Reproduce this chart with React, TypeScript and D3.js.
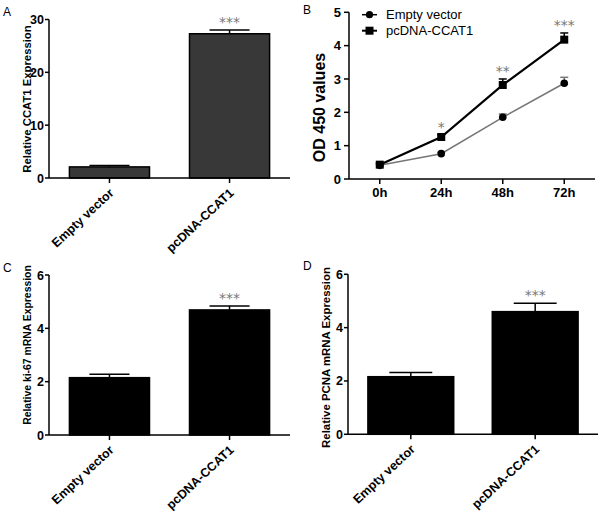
import React from "react";
import * as d3 from "d3";

// bar panels (A, C, D)
const groups = ["Empty vector", "pcDNA-CCAT1"];
const ccat1Mean = [2.1, 27.3];
const ccat1Err = [0.25, 0.7];
const ki67Mean = [2.15, 4.69];
const ki67Err = [0.13, 0.15];
const pcnaMean = [2.16, 4.6];
const pcnaErr = [0.16, 0.31];
const barStars = ["", "***"];
const ccat1Ticks = [0, 10, 20, 30];
const mrnaTicks = [0, 2, 4, 6];

// line panel (B)
const hours = ["0h", "24h", "48h", "72h"];
const emptyOD = [0.41, 0.76, 1.85, 2.87];
const emptyODErr = [0.03, 0.04, 0.1, 0.18];
const ccatOD = [0.43, 1.26, 2.82, 4.18];
const ccatODErr = [0.04, 0.07, 0.18, 0.2];
const odStars = ["", "*", "**", "***"];
const odTicks = [0, 1, 2, 3, 4, 5];

const FONT = "Liberation Sans, Arial, Helvetica, sans-serif";
const STAR_FONT = "DejaVu Sans, sans-serif";
const STAR_COLOR = "#777";

type BarProps = {
  letter: string;
  letterX: number;
  letterY: number;
  left: number;
  right: number;
  top: number;
  bottom: number;
  padIn: number;
  padOut: number;
  yMax: number;
  yTicks: number[];
  values: number[];
  errors: number[];
  fill: string;
  yLabel: string;
  yLabelX: number;
  yLabelY: number;
  yLabelSize: number;
};

function BarPanel(p: BarProps) {
  const x = d3
    .scaleBand<string>()
    .domain(groups)
    .range([p.left, p.right])
    .paddingInner(p.padIn)
    .paddingOuter(p.padOut);
  const y = d3.scaleLinear().domain([0, p.yMax]).range([p.bottom, p.top]);
  const bw = x.bandwidth();

  return (
    <g>
      <text x={p.letterX} y={p.letterY} fontSize={12}>
        {p.letter}
      </text>

      {groups.map((g, i) => {
        const x0 = x(g)!;
        const cx = x0 + bw / 2;
        const yv = y(p.values[i]);
        const ye = y(p.values[i] + p.errors[i]);
        const cap = bw * 0.5;
        return (
          <g key={g}>
            <line x1={cx} x2={cx} y1={yv} y2={ye} stroke="#000" strokeWidth={1.5} />
            <line x1={cx - cap / 2} x2={cx + cap / 2} y1={ye} y2={ye} stroke="#000" strokeWidth={1.5} />
            <rect x={x0} y={yv} width={bw} height={p.bottom - yv} fill={p.fill} stroke="#000" strokeWidth={1.5} />
            {barStars[i] && (
              <text x={cx} y={ye - 3} textAnchor="middle" fontFamily={STAR_FONT} fontSize={14} fill={STAR_COLOR}>
                {barStars[i]}
              </text>
            )}
            <line x1={cx} x2={cx} y1={p.bottom} y2={p.bottom + 5} stroke="#000" strokeWidth={1.5} />
            <text
              transform={`translate(${cx + 5},${p.bottom + 16}) rotate(-43)`}
              textAnchor="end"
              fontSize={12.5}
              fontWeight="bold"
            >
              {g}
            </text>
          </g>
        );
      })}

      {/* y axis */}
      <line x1={p.left} x2={p.left} y1={p.top} y2={p.bottom} stroke="#000" strokeWidth={1.5} />
      {p.yTicks.map((t) => (
        <g key={t}>
          <line x1={p.left - 4} x2={p.left} y1={y(t)} y2={y(t)} stroke="#000" strokeWidth={1.5} />
          <text x={p.left - 5} y={y(t)} dy="0.36em" textAnchor="end" fontSize={12.5} fontWeight="bold">
            {t}
          </text>
        </g>
      ))}
      {/* x axis */}
      <line x1={p.left} x2={p.right} y1={p.bottom} y2={p.bottom} stroke="#000" strokeWidth={1.5} />

      <text
        transform={`translate(${p.yLabelX},${p.yLabelY}) rotate(-90)`}
        textAnchor="middle"
        fontSize={p.yLabelSize}
        fontWeight="bold"
      >
        {p.yLabel}
      </text>
    </g>
  );
}

function LinePanel() {
  const left = 349;
  const right = 595;
  const top = 12.3;
  const bottom = 179;
  const x = d3.scalePoint<string>().domain(hours).range([left, right]).padding(0.5);
  const y = d3.scaleLinear().domain([0, 5]).range([bottom, top]);
  const line = d3
    .line<number>()
    .x((_, i) => x(hours[i])!)
    .y((d) => y(d));

  return (
    <g>
      <text x={303} y={14} fontSize={12}>
        B
      </text>

      {/* axes */}
      <line x1={left} x2={left} y1={top} y2={bottom} stroke="#000" strokeWidth={1.5} />
      {odTicks.map((t) => (
        <g key={t}>
          <line x1={left - 5} x2={left} y1={y(t)} y2={y(t)} stroke="#000" strokeWidth={1.5} />
          <text x={left - 8} y={y(t)} dy="0.36em" textAnchor="end" fontSize={13} fontWeight="bold">
            {t}
          </text>
        </g>
      ))}
      <line x1={left} x2={right} y1={bottom} y2={bottom} stroke="#000" strokeWidth={1.5} />
      {hours.map((h) => (
        <g key={h}>
          <line x1={x(h)!} x2={x(h)!} y1={bottom} y2={bottom + 5} stroke="#000" strokeWidth={1.5} />
          <text x={x(h)!} y={bottom + 18} textAnchor="middle" fontSize={13} fontWeight="bold">
            {h}
          </text>
        </g>
      ))}
      <text transform={`translate(325,107.5) rotate(-90)`} textAnchor="middle" fontSize={16} fontWeight="bold">
        OD 450 values
      </text>

      {/* Empty vector */}
      <path d={line(emptyOD)!} fill="none" stroke="#777" strokeWidth={1.6} />
      {emptyOD.map((v, i) => {
        const cx = x(hours[i])!;
        const ye = y(v + emptyODErr[i]);
        return (
          <g key={i}>
            <line x1={cx} x2={cx} y1={y(v)} y2={ye} stroke="#777" strokeWidth={1.5} />
            <line x1={cx - 4} x2={cx + 4} y1={ye} y2={ye} stroke="#777" strokeWidth={1.5} />
            <circle cx={cx} cy={y(v)} r={3.8} fill="#000" />
          </g>
        );
      })}

      {/* pcDNA-CCAT1 */}
      <path d={line(ccatOD)!} fill="none" stroke="#000" strokeWidth={2.2} />
      {ccatOD.map((v, i) => {
        const cx = x(hours[i])!;
        const ye = y(v + ccatODErr[i]);
        return (
          <g key={i}>
            <line x1={cx} x2={cx} y1={y(v)} y2={ye} stroke="#000" strokeWidth={1.5} />
            <line x1={cx - 4} x2={cx + 4} y1={ye} y2={ye} stroke="#000" strokeWidth={1.5} />
            <rect x={cx - 4} y={y(v) - 4} width={8} height={8} fill="#000" />
            {odStars[i] && (
              <text x={cx} y={ye - 3} textAnchor="middle" fontFamily={STAR_FONT} fontSize={14} fill={STAR_COLOR}>
                {odStars[i]}
              </text>
            )}
          </g>
        );
      })}

      {/* legend */}
      <line x1={362} x2={377} y1={14.7} y2={14.7} stroke="#000" strokeWidth={1.5} />
      <circle cx={369.5} cy={14.7} r={3.6} fill="#000" />
      <text x={386} y={14.7} dy="0.35em" fontSize={13}>
        Empty vector
      </text>
      <line x1={362} x2={377} y1={30.7} y2={30.7} stroke="#000" strokeWidth={2} />
      <rect x={365.5} y={26.7} width={8} height={8} fill="#000" />
      <text x={386} y={30.7} dy="0.35em" fontSize={13}>
        pcDNA-CCAT1
      </text>
    </g>
  );
}

export default function App() {
  return (
    <svg
      width={601}
      height={515}
      style={{ position: "absolute", left: 0, top: 0, background: "#fff" }}
      fontFamily={FONT}
    >
      <BarPanel
        letter="A"
        letterX={3}
        letterY={16}
        left={49}
        right={290}
        top={19.5}
        bottom={178}
        padIn={0.333}
        padOut={0.17}
        yMax={30}
        yTicks={ccat1Ticks}
        values={ccat1Mean}
        errors={ccat1Err}
        fill="#383838"
        yLabel="Relative CCAT1 Expression"
        yLabelX={31}
        yLabelY={99}
        yLabelSize={11.3}
      />
      <LinePanel />
      <BarPanel
        letter="C"
        letterX={3}
        letterY={272}
        left={49}
        right={290}
        top={275}
        bottom={435}
        padIn={0.333}
        padOut={0.17}
        yMax={6}
        yTicks={mrnaTicks}
        values={ki67Mean}
        errors={ki67Err}
        fill="#000"
        yLabel="Relative ki-67 mRNA Expression"
        yLabelX={31}
        yLabelY={345}
        yLabelSize={10.4}
      />
      <BarPanel
        letter="D"
        letterX={303}
        letterY={270}
        left={348}
        right={598}
        top={274.3}
        bottom={434.3}
        padIn={0.31}
        padOut={0.16}
        yMax={6}
        yTicks={mrnaTicks}
        values={pcnaMean}
        errors={pcnaErr}
        fill="#000"
        yLabel="Relative PCNA mRNA Expression"
        yLabelX={330}
        yLabelY={357.5}
        yLabelSize={11.4}
      />
    </svg>
  );
}
